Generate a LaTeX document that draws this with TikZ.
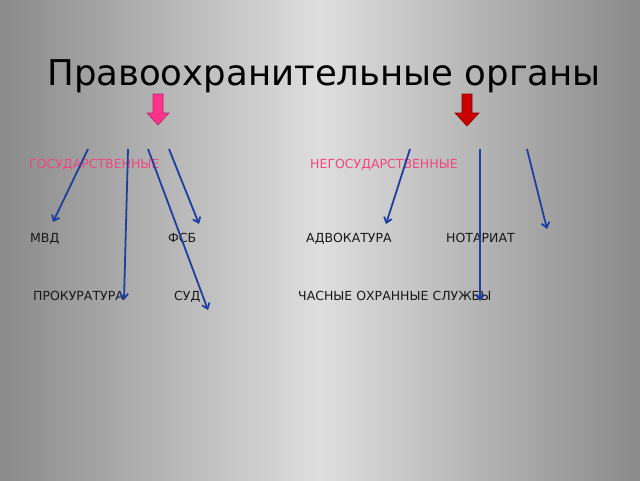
\documentclass[tikz,border=0pt]{standalone}
\usepackage{fontspec}
\setmainfont{DejaVu Sans}
\usetikzlibrary{arrows.meta}
\definecolor{bgedge}{RGB}{138,138,138}
\definecolor{bgmid}{RGB}{222,222,222}
\definecolor{kindpink}{RGB}{240,70,130}
\definecolor{linkblue}{RGB}{30,62,160}
\definecolor{arrowpink}{RGB}{255,51,140}
\definecolor{arrowred}{RGB}{200,0,0}

\begin{document}
\begin{tikzpicture}[x=1pt,y=-1pt,
  orgtext/.style={font=\fontsize{12.5}{14}\selectfont, text=black!90, inner sep=0pt, anchor=base west},
  kindtext/.style={orgtext, text=kindpink},
  link/.style={draw=linkblue, line width=1.8pt, -{Straight Barb[length=5pt,width=8pt]}}]
  % background
  \shade [left color=bgedge, right color=bgedge, middle color=bgmid] (0,0) rectangle (640,480);
  \useasboundingbox (0,0) rectangle (640,480);
  % title
  \node [font=\fontsize{35.5}{42}\selectfont, inner sep=0pt, anchor=base] (title) at (324,85) {Правоохранительные органы};
  % block arrows
  \draw [fill=arrowpink, draw=arrowpink!70!black, line width=0.6pt]
    (153,94) -- (163,94) -- (163,113) -- (169,113) -- (158,125) -- (147,113) -- (153,113) -- cycle;
  \draw [fill=arrowred, draw=arrowred!70!black, line width=0.6pt]
    (462,94) -- (472,94) -- (472,113) -- (479,113) -- (467,126) -- (455,113) -- (462,113) -- cycle;
  % kinds
  \node [kindtext] (gos) at (29,168) {ГОСУДАРСТВЕННЫЕ};
  \node [kindtext] (negos) at (310,168) {НЕГОСУДАРСТВЕННЫЕ};
  % bodies
  \node [orgtext] (mvd) at (30,242) {МВД};
  \node [orgtext] (fsb) at (168,242) {ФСБ};
  \node [orgtext] (advok) at (306,242) {АДВОКАТУРА};
  \node [orgtext] (notar) at (446,242) {НОТАРИАТ};
  \node [orgtext] (prokur) at (33,300) {ПРОКУРАТУРА};
  \node [orgtext] (sud) at (174,300) {СУД};
  \node [orgtext] (ohrana) at (298,300) {ЧАСНЫЕ ОХРАННЫЕ СЛУЖБЫ};
  % connector ends
  \coordinate (g1) at (88,149);
  \coordinate (g2) at (128,149);
  \coordinate (g3) at (148,149);
  \coordinate (g4) at (169,149);
  \coordinate (n1) at (410,149);
  \coordinate (n2) at (480,149);
  \coordinate (n3) at (527,149);
  \coordinate (mvdtip) at (53,222);
  \coordinate (prokurtip) at (124,300);
  \coordinate (sudtip) at (208,310);
  \coordinate (fsbtip) at (199,224);
  \coordinate (advoktip) at (386,224);
  \coordinate (ohranatip) at (480,301);
  \coordinate (notartip) at (547,229);
  \draw [link] (g1) -- (mvdtip);
  \draw [link] (g2) -- (prokurtip);
  \draw [link] (g3) -- (sudtip);
  \draw [link] (g4) -- (fsbtip);
  \draw [link] (n1) -- (advoktip);
  \draw [link] (n2) -- (ohranatip);
  \draw [link] (n3) -- (notartip);
\end{tikzpicture}
\end{document}
